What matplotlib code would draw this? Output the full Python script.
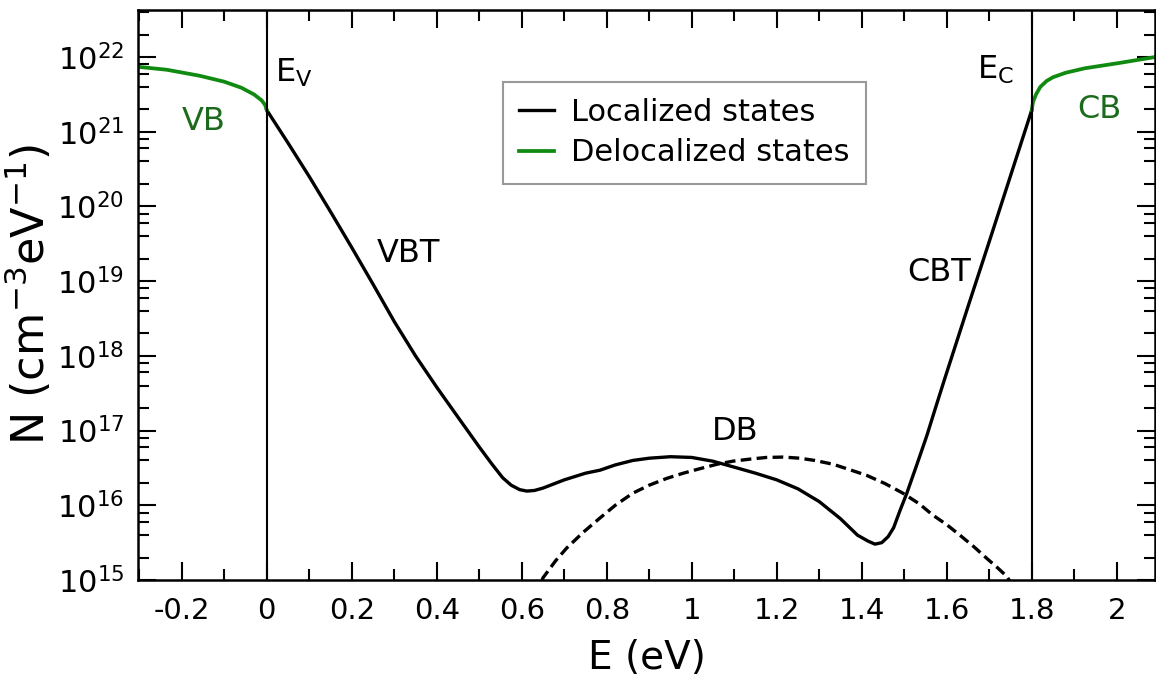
import math
import matplotlib
matplotlib.use("Agg")
import matplotlib.pyplot as plt
from matplotlib.ticker import MultipleLocator, FixedLocator, FuncFormatter, NullFormatter

plt.rcParams['font.family'] = ['DejaVu Sans']
plt.rcParams['mathtext.fontset'] = 'dejavusans'

# ---- data ----
E_loc = [0.000, 0.050, 0.100, 0.150, 0.200, 0.250, 0.300, 0.350, 0.400, 0.450,
         0.500, 0.530, 0.555, 0.575, 0.595, 0.612, 0.630, 0.650, 0.700, 0.750,
         0.784, 0.820, 0.861, 0.900, 0.950, 1.000, 1.050, 1.100, 1.150, 1.200,
         1.250, 1.300, 1.350, 1.390, 1.415, 1.431, 1.447, 1.462, 1.475, 1.490,
         1.506, 1.530, 1.553, 1.575, 1.595, 1.620, 1.650, 1.700, 1.750, 1.800]
N_loc = [1.95e21, 7.08e20, 2.51e20, 8.51e19, 2.82e19, 9.12e18, 2.88e18, 1.00e18, 3.80e17, 1.51e17,
         6.03e16, 3.55e16, 2.34e16, 1.86e16, 1.62e16, 1.55e16, 1.58e16, 1.70e16, 2.19e16, 2.69e16,
         2.95e16, 3.47e16, 3.98e16, 4.27e16, 4.47e16, 4.37e16, 3.89e16, 3.24e16, 2.69e16, 2.19e16,
         1.66e16, 1.12e16, 6.61e15, 3.98e15, 3.31e15, 3.02e15, 3.16e15, 3.80e15, 5.01e15, 8.51e15,
         1.45e16, 3.55e16, 8.51e16, 2.14e17, 4.90e17, 1.35e18, 4.57e18, 3.39e19, 2.57e20, 1.95e21]

E_vb = [-0.303, -0.235, -0.158, -0.100, -0.060, -0.030, -0.012, -0.004, 0.000]
N_vb = [7.41e21, 6.76e21, 5.62e21, 4.68e21, 3.89e21, 3.16e21, 2.63e21, 2.29e21, 1.95e21]

E_cb = [1.800, 1.803, 1.810, 1.820, 1.835, 1.850, 1.880, 1.925, 2.005, 2.090]
N_cb = [1.95e21, 2.51e21, 3.16e21, 3.98e21, 4.79e21, 5.37e21, 6.17e21, 7.08e21, 8.32e21, 1.00e22]

E_db = [0.620, 0.650, 0.680, 0.706, 0.745, 0.784, 0.820, 0.861, 0.900, 0.941,
        0.980, 1.019, 1.060, 1.096, 1.140, 1.176, 1.215, 1.254, 1.290, 1.332,
        1.370, 1.412, 1.455, 1.497, 1.535, 1.567, 1.600, 1.631, 1.665, 1.694,
        1.720, 1.741, 1.770]
N_db = [3.98e14, 1.07e15, 1.82e15, 2.69e15, 4.37e15, 6.76e15, 1.00e16, 1.45e16, 1.86e16, 2.29e16,
        2.69e16, 3.09e16, 3.55e16, 3.89e16, 4.17e16, 4.37e16, 4.42e16, 4.27e16, 3.98e16, 3.55e16,
        3.02e16, 2.51e16, 1.95e16, 1.45e16, 1.05e16, 7.41e15, 5.50e15, 3.98e15, 2.75e15, 1.95e15,
        1.45e15, 1.12e15, 6.31e14]

E_v, E_c = 0.0, 1.8

y_decades = [15, 16, 17, 18, 19, 20, 21, 22]
y_minor_subs = [2, 4, 6, 8]

labels = [("VB", -0.200, 1.07e21, '#1c6b1c'),
          ("CB", 1.908, 1.55e21, '#1c6b1c'),
          ("VBT", 0.259, 1.78e19, 'black'),
          ("CBT", 1.508, 1.0e19, 'black'),
          ("DB", 1.047, 7.4e16, 'black'),
          (r"E$_\mathregular{V}$", 0.020, 4.7e21, 'black'),
          (r"E$_\mathregular{C}$", 1.670, 5.2e21, 'black')]

# ---- figure ----
fig = plt.figure(figsize=(11.56, 6.82), dpi=100)
ax = fig.add_axes([138/1156, 1 - 580/682, (1155-138)/1156, (580-10)/682])

green = '#108a10'
l1, = ax.plot(E_loc, N_loc, color='black', lw=2.4, label='Localized states')
l2, = ax.plot(E_vb, N_vb, color=green, lw=2.7, label='Delocalized states')
ax.plot(E_cb, N_cb, color=green, lw=2.7)
ax.plot(E_db, N_db, color='black', lw=2.4, linestyle=(0, (3.2, 1.6)))
ax.axvline(E_v, color='black', lw=1.5)
ax.axvline(E_c, color='black', lw=1.5)

ax.set_yscale('log')
ax.set_xlim(-0.303, 2.09)
ax.set_ylim(1e15, 10**22.63)


def xfmt(v, p):
    if abs(v) < 1e-9:
        return "0"
    return f"{round(v, 3):g}"


major_y = [10.0**d for d in y_decades]
minor_y = [s * 10.0**d for d in y_decades for s in y_minor_subs if s * 10.0**d < 10**22.63]

ax.xaxis.set_major_locator(MultipleLocator(0.2))
ax.xaxis.set_minor_locator(MultipleLocator(0.1))
ax.xaxis.set_major_formatter(FuncFormatter(xfmt))
ax.yaxis.set_major_locator(FixedLocator(major_y))
ax.yaxis.set_minor_locator(FixedLocator(minor_y))
ax.yaxis.set_minor_formatter(NullFormatter())
ax.yaxis.set_major_formatter(FuncFormatter(lambda v, p: r"$\mathregular{10^{%d}}$" % round(math.log10(v))))

ax.tick_params(which='both', direction='in', top=True, right=True, width=1.5)
ax.tick_params(which='major', length=13)
ax.tick_params(which='minor', length=8)
ax.tick_params(axis='x', which='major', labelsize=21, pad=12)
ax.tick_params(axis='y', which='major', labelsize=22, pad=10)
for s in ax.spines.values():
    s.set_linewidth(1.8)

ax.set_xlabel("E (eV)", fontsize=28, labelpad=10)
ax.set_ylabel(r"N (cm$^{\mathregular{-3}}$eV$^{\mathregular{-1}}$)", fontsize=32, labelpad=2)

for txt, x, y, c in labels:
    ax.text(x, y, txt, color=c, fontsize=23, ha='left', va='baseline')

leg = ax.legend(handles=[l1, l2], loc='upper left', bbox_to_anchor=(0.359, 0.874),
                borderaxespad=0, fontsize=22, frameon=True, fancybox=False,
                handlelength=1.15, handletextpad=0.55, labelspacing=0.37, borderpad=0.53)
leg.get_frame().set_edgecolor('#808080')
leg.get_frame().set_linewidth(1.5)

fig.savefig("out.png", dpi=100)
